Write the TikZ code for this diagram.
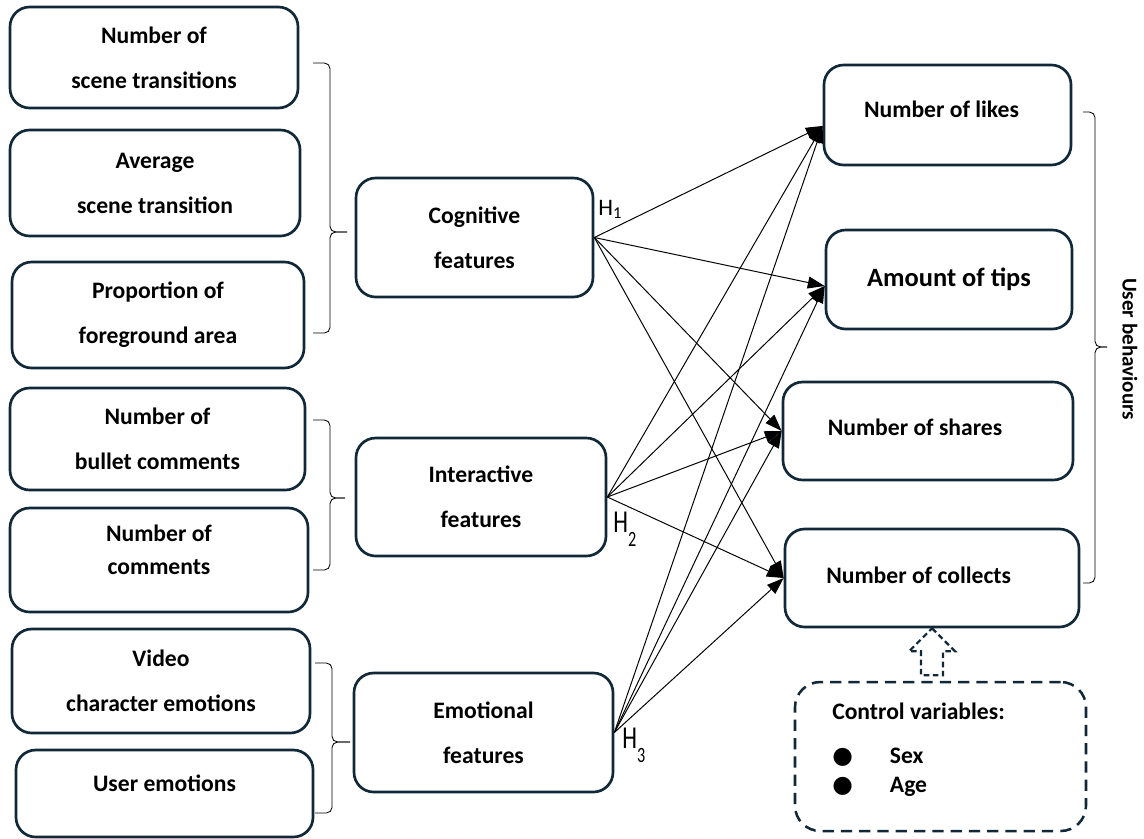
\documentclass[tikz,border=0pt]{standalone}
\usepackage{fontspec}
\setmainfont{Carlito}
\newfontfamily\dotfont{DejaVu Sans}
\usepackage{tikz}
\usetikzlibrary{arrows.meta}
\usepackage{xcolor}
\definecolor{boxline}{RGB}{16, 40, 56}
\newcommand{\pxu}{0.025cm}

\tikzset{
  featbox/.style 2 args={draw=boxline, line width=1.9pt, rounded corners=14pt, inner sep=0pt,
    minimum width=#1*\pxu, minimum height=#2*\pxu, align=center,
    font=\fontsize{16.8}{32}\selectfont\bfseries},
  link/.style={-{Triangle[length=12pt, width=8.5pt]}, line width=0.7pt},
  bracestroke/.style={line width=0.6pt, rounded corners=4pt},
  hlabel/.style={anchor=base west, inner sep=0pt, font=\fontsize{16.8}{20}\selectfont},
  ctrlarrow/.style={draw=boxline, line width=1.6pt, dash pattern=on 4pt off 2.5pt, line join=miter},
}

\begin{document}
\begin{tikzpicture}[x=0.025cm, y=-0.025cm]
  \useasboundingbox (0,0) rectangle (1144,838);
  % measured features
  \node[featbox={288}{101}] (nst) at (154,57.5) {Number of\\scene transitions};
  \node[featbox={290}{106}] (ast) at (155,183) {Average\\scene transition};
  \node[featbox={292}{106}] (pfa) at (158,315) {Proportion of\\foreground area};
  \node[featbox={295}{102}] (nbc) at (157.5,439) {Number of\\bullet comments};
  \node[featbox={298}{104}, font=\fontsize{16.8}{23.5}\selectfont\bfseries, text depth=14.6pt] (noc) at (159,560) {Number of\\comments};
  \node[featbox={298}{104}] (vce) at (161,681) {Video\\character emotions};
  \node[featbox={297}{87}, text depth=14pt] (uem) at (164.5,793.5) {User emotions};
  % feature groups
  \node[featbox={237}{119}] (cog) at (474.5,237.5) {Cognitive\\features};
  \node[featbox={250}{118}] (inter) at (481,497) {Interactive\\features};
  \node[featbox={259}{119}] (emo) at (483.5,732.5) {Emotional\\features};
  % user behaviours
  \node[featbox={247}{100}, text depth=7.8pt] (likes) at (947.5,115) {Number of likes\hspace*{8.5pt}};
  \node[featbox={246}{99}, font=\fontsize{18.8}{22}\selectfont\bfseries] (tips) at (949,279.5) {Amount of tips};
  \node[featbox={290}{98}, text depth=5pt] (shares) at (928,431) {Number of shares\hspace*{18.5pt}};
  \node[featbox={294}{98}, text depth=3.6pt] (collects) at (932,578) {Number of collects\hspace*{19pt}};
  \node[rotate=-90, font=\fontsize{15}{18}\selectfont\bfseries] (ub) at (1130,349) {User behaviours};

  % braces
  \draw[bracestroke] (313,63) -- (330,63) -- (330,232) -- (347,232);
  \draw[bracestroke] (313,333) -- (330,333) -- (330,232) -- (347,232);
  \draw[bracestroke] (313,420) -- (330,420) -- (330,498) -- (345,498);
  \draw[bracestroke] (313,570) -- (330,570) -- (330,498) -- (345,498);
  \draw[bracestroke] (315,663) -- (332,663) -- (332,742) -- (350,742);
  \draw[bracestroke] (315,813) -- (332,813) -- (332,742) -- (350,742);
  \draw[bracestroke] (1083,112) -- (1095,112) -- (1095,347) -- (1107,347);
  \draw[bracestroke] (1083,583) -- (1095,583) -- (1095,347) -- (1107,347);

  % hypotheses
  \foreach \src in {cog, inter, emo}
    \foreach \dst in {likes.185, tips.183, shares.west, collects.west}
      \draw[link] (\src.east) -- (\dst);
  \node[hlabel] (h1) at (598,215) {H\textsubscript{1}};
  \node[hlabel] (h2) at (613,532) {\scalebox{1}[1.35]{H\raisebox{-0.45em}{\fontsize{11.5}{12}\selectfont 2}}};
  \node[hlabel] (h3) at (622,748) {\scalebox{1}[1.35]{H\raisebox{-0.45em}{\fontsize{11.5}{12}\selectfont 3}}};

  % control variables
  \node[draw=boxline, line width=1.8pt, dash pattern=on 8pt off 5pt, rounded corners=18pt,
    minimum width=291*\pxu, minimum height=149*\pxu] (ctrl) at (940.5,756.5) {};
  \node[anchor=north west, align=left, inner sep=0pt, font=\fontsize{16.8}{20.6}\selectfont\bfseries] (ctrltext) at (832,703)
    {Control variables:\\[10.7pt]\makebox[41pt][l]{\dotfont ●}Sex\\\makebox[41pt][l]{\dotfont ●}Age};
  \draw[ctrlarrow] (collects.south) -- ++(23,23) -- ++(-12,0) -- ++(0,24) -- ++(-22,0) -- ++(0,-24) -- ++(-12,0) -- cycle;
\end{tikzpicture}
\end{document}
